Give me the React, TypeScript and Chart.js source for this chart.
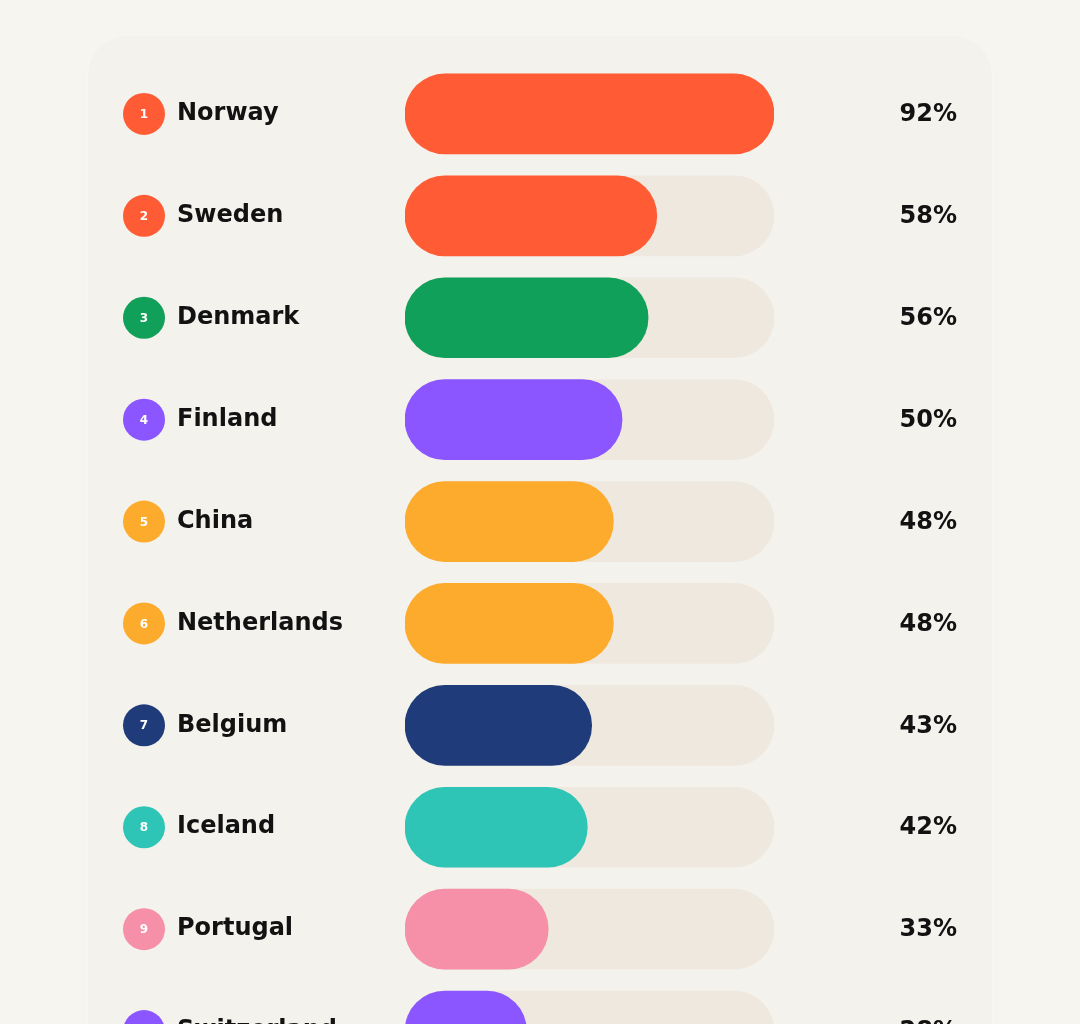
import React, { useEffect, useRef } from 'react';
import { Chart, registerables } from 'chart.js';

Chart.register(...registerables);

const countries = ['Norway', 'Sweden', 'Denmark', 'Finland', 'China', 'Netherlands', 'Belgium', 'Iceland', 'Portugal', 'Switzerland'];
const shares = [92, 58, 56, 50, 48, 48, 43, 42, 33, 28];
const barColors = ['#ff5c35', '#ff5c35', '#11a05a', '#8b55ff', '#fdab2c', '#fdab2c', '#1f3b7a', '#2ec4b6', '#f68fa8', '#8b55ff'];
// the track is the full width of the scale; values above it are capped
const scaleMax = 85;

const labelsPlugin = {
  id: 'rowLabels',
  afterDraw(chart: Chart) {
    const ctx = chart.ctx;
    const y = chart.scales.y;
    ctx.save();
    countries.forEach((name, i) => {
      const cy = y.getPixelForValue(i);
      // rank bubble
      ctx.beginPath();
      ctx.arc(144, cy, 21, 0, Math.PI * 2);
      ctx.fillStyle = barColors[i];
      ctx.fill();
      ctx.fillStyle = '#ffffff';
      ctx.font = 'bold 12px "DejaVu Sans"';
      ctx.textAlign = 'center';
      ctx.textBaseline = 'middle';
      ctx.fillText(String(i + 1), 144, cy + 1);
      // country name
      ctx.fillStyle = '#121212';
      ctx.font = 'bold 24px "DejaVu Sans"';
      ctx.textAlign = 'left';
      ctx.fillText(name, 177, cy);
      // percentage
      ctx.textAlign = 'right';
      ctx.fillText(shares[i] + '%', 957, cy + 1);
    });
    ctx.restore();
  },
};

const App: React.FC = () => {
  const canvasRef = useRef<HTMLCanvasElement>(null);

  useEffect(() => {
    document.body.style.margin = '0';
    document.body.style.background = '#f6f5f0';
    const ctx = canvasRef.current?.getContext('2d');
    if (!ctx) return;
    const chart = new Chart(ctx, {
      type: 'bar',
      data: {
        labels: countries,
        datasets: [
          {
            data: shares.map((v) => Math.min(v, scaleMax)),
            backgroundColor: barColors,
            borderRadius: 40,
            borderSkipped: false,
            barThickness: 80,
            grouped: false,
          },
          {
            data: countries.map(() => scaleMax),
            backgroundColor: '#efe8df',
            borderRadius: 40,
            borderSkipped: false,
            barThickness: 80,
            grouped: false,
          },
        ],
      },
      options: {
        indexAxis: 'y',
        animation: false,
        responsive: false,
        layout: { padding: { left: 405, right: 306, top: 63, bottom: 38 } },
        plugins: { legend: { display: false }, tooltip: { enabled: false } },
        scales: {
          x: { display: false, min: 0, max: scaleMax },
          y: { display: false },
        },
      },
      plugins: [labelsPlugin],
    });
    return () => chart.destroy();
  }, []);

  return (
    <div style={{ position: 'relative', width: 1080, height: 1120, background: '#f6f5f0' }}>
      <div
        style={{
          position: 'absolute',
          left: 87,
          top: 35,
          width: 906,
          height: 1100,
          borderRadius: 40,
          background: '#f4f2ed',
          border: '1px solid #f8f7f4',
          boxSizing: 'border-box',
        }}
      />
      <canvas ref={canvasRef} width={1080} height={1120} style={{ position: 'absolute', left: 0, top: 0 }} />
    </div>
  );
};

export default App;
